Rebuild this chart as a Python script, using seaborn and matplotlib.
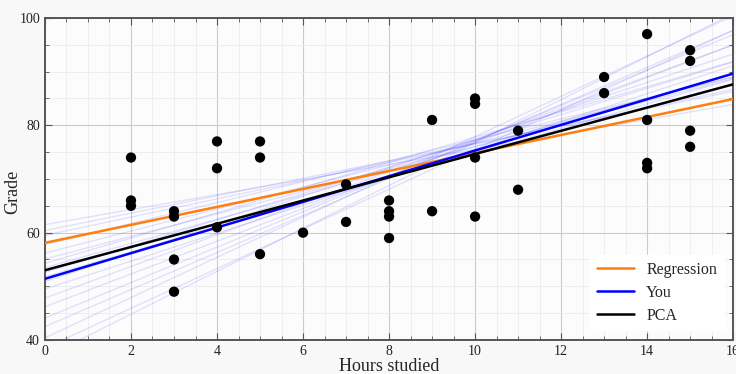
import numpy as np
import pandas as pd
import matplotlib.pyplot as plt
import seaborn as sns
from matplotlib.ticker import MultipleLocator

# Datos: horas estudiadas y nota
hours = [2, 2, 2, 3, 3, 3, 3, 4, 4, 4, 5, 5, 5, 6, 7, 7, 8, 8, 8, 8,
         9, 9, 10, 10, 10, 10, 11, 11, 13, 13, 14, 14, 14, 14, 15, 15, 15, 15]
grades = [74, 66, 65, 64, 63, 55, 49, 77, 72, 61, 77, 74, 56, 60, 69, 62, 66, 64, 63, 59,
          81, 64, 85, 84, 74, 63, 79, 68, 89, 86, 97, 81, 73, 72, 94, 92, 79, 76]

# Rectas principales (intercepto, pendiente)
line_names = ["Regression", "You", "PCA"]
line_intercepts = [58.1, 51.4, 53.0]
line_slopes = [1.675, 2.39, 2.165]
line_colors = ["#ff7f0e", "#0000ff", "#000000"]

# Rectas "fantasma" en azul claro
ghost_intercepts = [61.5, 60.4, 59.5, 57.8, 56.2, 55.1, 54.3, 53.5, 52.6, 51.8,
                    50.9, 49.5, 47.8, 46.2, 44.1, 42.5, 40.4, 38.5, 36.8]
ghost_slopes = [1.40, 1.62, 1.70, 1.95, 2.05, 2.10, 2.35, 2.25, 2.45, 2.30,
                2.65, 2.60, 2.95, 3.05, 3.30, 3.45, 3.75, 3.70, 4.00]

x_range = [0, 16]

sns.set_style("ticks")
plt.rcParams['font.family'] = ['Liberation Serif', 'DejaVu Serif']

fig = plt.figure(figsize=(7.36, 3.74), dpi=100, facecolor="#f8f8f8")
ax = fig.add_axes([0.0611, 0.0909, 0.935, 0.861])
ax.set_facecolor("#fcfcfc")

ghost = pd.DataFrame({
    "x": np.tile(x_range, len(ghost_intercepts)),
    "y": np.concatenate([[a + b * x for x in x_range] for a, b in zip(ghost_intercepts, ghost_slopes)]),
    "id": np.repeat(np.arange(len(ghost_intercepts)), 2),
})
sns.lineplot(data=ghost, x="x", y="y", units="id", estimator=None,
             color="#0000ff", alpha=0.11, lw=1.0, ax=ax, zorder=2)

for name, a, b, c in zip(line_names, line_intercepts, line_slopes, line_colors):
    sns.lineplot(x=x_range, y=[a + b * x for x in x_range], color=c, lw=1.8,
                 label=name, ax=ax, zorder=3)

sns.scatterplot(x=hours, y=grades, color="black", s=55, edgecolor="none", ax=ax, zorder=4)

ax.set_xlim(0, 16)
ax.set_ylim(40, 100)
ax.xaxis.set_major_locator(MultipleLocator(2))
ax.xaxis.set_minor_locator(MultipleLocator(0.5))
ax.yaxis.set_major_locator(MultipleLocator(20))
ax.yaxis.set_minor_locator(MultipleLocator(5))
ax.grid(which="major", color="#cccccc", lw=0.8)
ax.grid(which="minor", color="#ececec", lw=0.6)
ax.set_axisbelow(True)
ax.tick_params(which="both", direction="in", top=True, right=True, color="#555555",
               labelsize=10, labelcolor="#222222")
ax.tick_params(which="major", length=5)
ax.tick_params(which="minor", length=3)
for sp in ax.spines.values():
    sp.set_visible(True)
    sp.set_color("#555555")
    sp.set_linewidth(1.4)

ax.set_xlabel("Hours studied", fontsize=13, labelpad=0)
ax.set_ylabel("Grade", fontsize=13)
ax.yaxis.set_label_coords(-0.034, 0.46)

leg = ax.legend(loc="lower right", fontsize=11.5, frameon=True, fancybox=False,
                borderaxespad=0.6, handlelength=2.3, labelspacing=0.45)
leg.get_frame().set_facecolor("white")
leg.get_frame().set_edgecolor("white")
leg.get_frame().set_alpha(1)

fig.savefig("out.png", dpi=100, facecolor=fig.get_facecolor())
